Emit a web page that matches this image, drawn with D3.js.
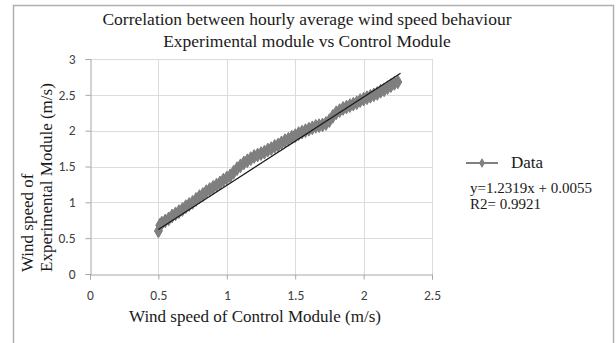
<!DOCTYPE html>
<html><head><meta charset="utf-8">
<script src="https://cdn.jsdelivr.net/npm/d3@7"></script>
<style>body{margin:0;background:#fff}svg{display:block}</style>
</head><body>
<svg id="c" width="616" height="343"></svg>
<script>
const titleLines = ["Correlation between hourly average wind speed behaviour", "Experimental module vs Control Module"];
const xTitle = "Wind speed of Control Module (m/s)";
const yTitleLines = ["Wind speed of", "Experimental Module (m/s)"];
const xTicks = [0, 0.5, 1, 1.5, 2, 2.5];
const yTicks = [0, 0.5, 1, 1.5, 2, 2.5, 3];
const controlSpeed = [0.50,0.51,0.525,0.55,0.575,0.60,0.625,0.65,0.675,0.70,0.725,0.75,0.775,0.80,0.825,0.85,0.875,0.90,0.925,0.95,0.975,1.00,1.025,1.05,1.075,1.10,1.125,1.15,1.175,1.20,1.225,1.25,1.275,1.30,1.325,1.35,1.375,1.40,1.425,1.45,1.475,1.50,1.525,1.55,1.575,1.60,1.625,1.65,1.675,1.70,1.725,1.75,1.775,1.80,1.825,1.85,1.875,1.90,1.925,1.95,1.975,2.00,2.025,2.05,2.075,2.10,2.125,2.15,2.175,2.20,2.225,2.25];
const experimentalSpeed = [0.60,0.68,0.71,0.74,0.77,0.81,0.84,0.87,0.90,0.94,0.97,1.00,1.04,1.08,1.11,1.15,1.18,1.21,1.24,1.27,1.31,1.34,1.37,1.42,1.47,1.51,1.55,1.58,1.61,1.64,1.66,1.68,1.70,1.73,1.75,1.78,1.80,1.83,1.86,1.88,1.91,1.93,1.96,1.98,2.00,2.02,2.04,2.06,2.07,2.08,2.10,2.14,2.20,2.25,2.28,2.31,2.33,2.35,2.37,2.39,2.42,2.44,2.46,2.48,2.50,2.52,2.55,2.57,2.60,2.63,2.66,2.68];
const trendSlope = 1.2319, trendIntercept = 0.0055;
const trendRange = [0.5, 2.27];
const legendLabel = "Data";
const eqText = "y=1.2319x + 0.0055";
const r2Text = "R2= 0.9921";

const svg = d3.select("#c");
const serif = "'Liberation Serif','Times New Roman',serif";
const sans = "Carlito,'Open Sans','Liberation Sans',Arial,sans-serif";

svg.append("rect").attr("x",13.5).attr("y",5.5).attr("width",600).attr("height",340)
  .attr("fill","#fff").attr("stroke","#b0b0b0").attr("stroke-width",1.5);

const x = d3.scaleLinear().domain([0,2.5]).range([90,432]);
const y = d3.scaleLinear().domain([0,3]).range([274,59]);

svg.append("g").selectAll("line").data(yTicks.slice(1)).join("line")
  .attr("x1",90).attr("x2",432).attr("y1",d=>Math.round(y(d))+0.5).attr("y2",d=>Math.round(y(d))+0.5)
  .attr("stroke","#dcdcdc");
svg.append("g").selectAll("line").data(xTicks.slice(1)).join("line")
  .attr("y1",59).attr("y2",274).attr("x1",d=>Math.round(x(d))+0.5).attr("x2",d=>Math.round(x(d))+0.5)
  .attr("stroke","#dcdcdc");

const xAxis = svg.append("g").attr("transform","translate(0,274.5)")
  .call(d3.axisBottom(x).tickValues(xTicks).tickSize(5).tickFormat(d3.format("")));
const yAxis = svg.append("g").attr("transform","translate(90.5,0)")
  .call(d3.axisLeft(y).tickValues(yTicks).tickSize(5).tickFormat(d3.format("")));
[xAxis,yAxis].forEach(a=>{
  a.select(".domain").attr("stroke","#a6a6a6");
  a.selectAll(".tick line").attr("stroke","#a6a6a6");
  a.selectAll(".tick text").attr("fill","#404040").attr("font-family",sans).attr("font-size",13.5);
});
xAxis.selectAll(".tick text").attr("y",16);
yAxis.selectAll(".tick text").attr("x",-15);

const pts = controlSpeed.map((v,i)=>[v, experimentalSpeed[i]]);
svg.append("path").datum(pts)
  .attr("d", d3.line().x(d=>x(d[0])).y(d=>y(d[1])))
  .attr("fill","none").attr("stroke","#7f7f7f").attr("stroke-width",5).attr("stroke-linejoin","round");
const diamond = d3.symbol().type(d3.symbolDiamond).size(55);
svg.append("g").selectAll("path").data(pts).join("path")
  .attr("d", diamond).attr("transform", d=>`translate(${x(d[0])},${y(d[1])})`)
  .attr("fill","#7f7f7f").attr("stroke","#7f7f7f").attr("stroke-width",1);

svg.append("line")
  .attr("x1",x(trendRange[0])).attr("y1",y(trendSlope*trendRange[0]+trendIntercept))
  .attr("x2",x(trendRange[1])).attr("y2",y(trendSlope*trendRange[1]+trendIntercept))
  .attr("stroke","#1a1a1a").attr("stroke-width",1.2);

svg.selectAll("text.title").data(titleLines).join("text").attr("class","title")
  .attr("x",307).attr("y",(d,i)=>25+i*22).attr("text-anchor","middle")
  .attr("font-family",serif).attr("font-size",17.5).attr("fill","#1a1a1a").text(d=>d);
svg.append("text").attr("x",255).attr("y",322).attr("text-anchor","middle")
  .attr("font-family",serif).attr("font-size",17).attr("fill","#1a1a1a").text(xTitle);
svg.selectAll("text.yt").data(yTitleLines).join("text").attr("class","yt")
  .attr("transform",(d,i)=>`translate(${i===0?33:52},272) rotate(-90)`)
  .attr("font-family",serif).attr("font-size",17).attr("fill","#1a1a1a").text(d=>d);

svg.append("line").attr("x1",466).attr("x2",498).attr("y1",163).attr("y2",163)
  .attr("stroke","#808080").attr("stroke-width",2);
svg.append("path").attr("d",d3.symbol().type(d3.symbolDiamond).size(30))
  .attr("transform","translate(482,163)").attr("fill","#808080");
svg.append("text").attr("x",511).attr("y",168).attr("font-family",serif).attr("font-size",17)
  .attr("fill","#1a1a1a").text(legendLabel);
svg.append("text").attr("x",470).attr("y",193).attr("font-family",serif).attr("font-size",15)
  .attr("fill","#1a1a1a").text(eqText);
svg.append("text").attr("x",470).attr("y",209).attr("font-family",serif).attr("font-size",15)
  .attr("fill","#1a1a1a").text(r2Text);
</script>
</body></html>
